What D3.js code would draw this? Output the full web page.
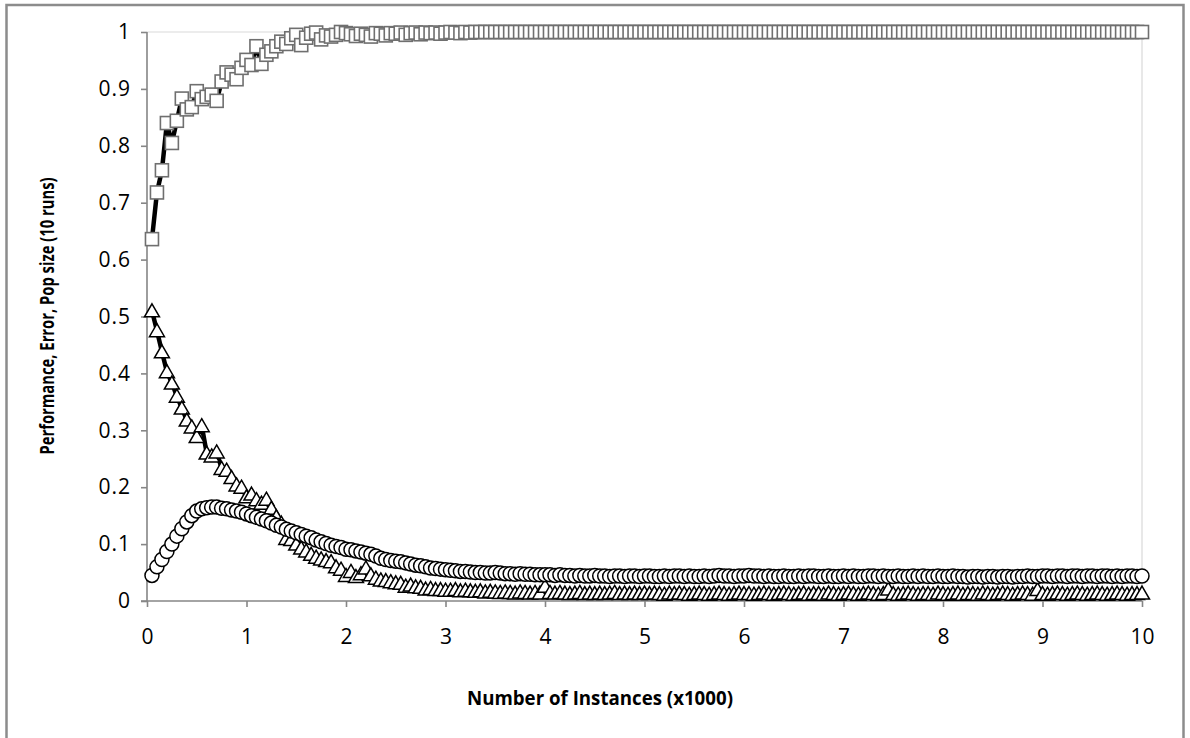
<!DOCTYPE html>
<head>
<meta charset="utf-8">
<title>Performance, Error, Pop size</title>
<script src="https://d3js.org/d3.v7.min.js"></script>
<style>
  body { margin: 0; background: #fff; }
  text { font-family: "Open Sans", "DejaVu Sans", sans-serif; fill: #000; }
</style>
</head>
<body>
<div id="container"></div>
<script>
// ---------------- DATA ----------------
// x = number of instances (x1000), sampled every 0.05
const instances = d3.range(1, 201).map(i => +(i * 0.05).toFixed(2));
const xTicks = [0, 1, 2, 3, 4, 5, 6, 7, 8, 9, 10];
const yTicks = [0, 0.1, 0.2, 0.3, 0.4, 0.5, 0.6, 0.7, 0.8, 0.9, 1];

// squares
const performance = [
  0.636,0.718,0.757,0.840,0.805,0.844,0.883,0.864,0.868,0.896,
  0.882,0.886,0.890,0.879,0.913,0.929,0.925,0.917,0.937,0.951,
  0.942,0.975,0.944,0.960,0.966,0.975,0.983,0.979,0.989,0.995,
  0.977,0.990,0.997,0.999,0.987,0.994,0.992,0.995,1.000,0.998,
  0.996,0.993,0.997,0.995,0.992,0.998,0.997,0.994,0.998,0.997,
  0.999,0.995,0.998,0.999,0.996,0.999,0.998,0.999,0.997,0.999,
  1,0.999,0.998,1,0.999,1,1,1,1,1,
  1,1,1,1,1,1,1,1,1,1,
  1,1,1,1,1,1,1,1,1,1,
  1,1,1,1,1,1,1,1,1,1,
  1,1,1,1,1,1,1,1,1,1,
  1,1,1,1,1,1,1,1,1,1,
  1,1,1,1,1,1,1,1,1,1,
  1,1,1,1,1,1,1,1,1,1,
  1,1,1,1,1,1,1,1,1,1,
  1,1,1,1,1,1,1,1,1,1,
  1,1,1,1,1,1,1,1,1,1,
  1,1,1,1,1,1,1,1,1,1,
  1,1,1,1,1,1,1,1,1,1,
  1,1,1,1,1,1,1,1,1,1
];

// triangles
const error = [
  0.510,0.475,0.438,0.403,0.383,0.360,0.339,0.318,0.306,0.289,
  0.308,0.260,0.255,0.262,0.233,0.230,0.217,0.204,0.200,0.183,
  0.188,0.178,0.172,0.179,0.163,0.148,0.137,0.110,0.108,0.100,
  0.093,0.088,0.082,0.077,0.074,0.071,0.069,0.060,0.056,0.045,
  0.052,0.043,0.048,0.058,0.046,0.040,0.037,0.036,0.034,0.032,
  0.031,0.026,0.028,0.025,0.024,0.021,0.022,0.020,0.020,0.019,
  0.019,0.020,0.018,0.019,0.018,0.017,0.018,0.016,0.017,0.016,
  0.015,0.016,0.015,0.014,0.016,0.015,0.014,0.015,0.014,0.026,
  0.015,0.014,0.015,0.014,0.013,0.014,0.015,0.013,0.014,0.013,
  0.014,0.013,0.014,0.015,0.013,0.014,0.013,0.014,0.013,0.014,
  0.013,0.014,0.013,0.012,0.014,0.013,0.014,0.013,0.012,0.013,
  0.014,0.013,0.012,0.013,0.014,0.013,0.012,0.013,0.014,0.013,
  0.013,0.012,0.013,0.014,0.013,0.012,0.013,0.014,0.013,0.012,
  0.013,0.014,0.012,0.013,0.013,0.012,0.014,0.013,0.012,0.013,
  0.014,0.013,0.012,0.013,0.014,0.013,0.012,0.013,0.021,0.013,
  0.012,0.013,0.014,0.013,0.012,0.013,0.013,0.012,0.014,0.013,
  0.012,0.013,0.014,0.012,0.013,0.013,0.012,0.014,0.013,0.012,
  0.013,0.014,0.013,0.012,0.013,0.014,0.013,0.012,0.020,0.013,
  0.012,0.013,0.014,0.013,0.012,0.013,0.014,0.013,0.012,0.013,
  0.014,0.013,0.012,0.013,0.014,0.013,0.012,0.013,0.013,0.014
];

// circles
const popSize = [
  0.045,0.060,0.073,0.087,0.100,0.114,0.127,0.139,0.150,0.158,
  0.162,0.164,0.165,0.165,0.163,0.162,0.160,0.158,0.156,0.153,
  0.150,0.147,0.144,0.141,0.137,0.133,0.130,0.126,0.123,0.120,
  0.117,0.114,0.111,0.107,0.104,0.101,0.098,0.096,0.094,0.091,
  0.090,0.088,0.086,0.084,0.082,0.079,0.075,0.073,0.071,0.070,
  0.069,0.067,0.065,0.063,0.062,0.060,0.058,0.057,0.056,0.055,
  0.054,0.053,0.052,0.052,0.051,0.050,0.050,0.049,0.049,0.050,
  0.049,0.048,0.048,0.047,0.048,0.047,0.047,0.046,0.046,0.046,
  0.046,0.045,0.046,0.045,0.045,0.044,0.045,0.044,0.044,0.045,
  0.044,0.044,0.043,0.044,0.044,0.043,0.044,0.044,0.043,0.044,
  0.044,0.043,0.043,0.044,0.043,0.044,0.044,0.043,0.044,0.043,
  0.043,0.044,0.043,0.044,0.045,0.044,0.044,0.043,0.044,0.044,
  0.045,0.044,0.044,0.043,0.044,0.043,0.043,0.044,0.043,0.043,
  0.044,0.043,0.044,0.044,0.043,0.043,0.044,0.043,0.043,0.044,
  0.043,0.044,0.043,0.043,0.044,0.044,0.043,0.044,0.043,0.043,
  0.044,0.043,0.043,0.044,0.043,0.044,0.043,0.043,0.044,0.043,
  0.043,0.044,0.043,0.043,0.042,0.043,0.043,0.042,0.043,0.043,
  0.042,0.043,0.043,0.042,0.043,0.043,0.044,0.043,0.043,0.044,
  0.044,0.043,0.044,0.044,0.043,0.044,0.044,0.043,0.044,0.044,
  0.043,0.044,0.044,0.043,0.044,0.043,0.044,0.044,0.043,0.044
];

// ---------------- SVG ----------------
const width = 1190, height = 738;
const plot = { left: 147, right: 1142, top: 32, bottom: 601 };

const svg = d3.select("#container").append("svg")
  .attr("width", width)
  .attr("height", height);

// outer chart frame
svg.append("rect")
  .attr("x", 6.5).attr("y", 5)
  .attr("width", 1177).attr("height", 800)
  .attr("fill", "#fff")
  .attr("stroke", "#8c8c8c")
  .attr("stroke-width", 2.5);

// ---------------- SCALES ----------------
const x = d3.scaleLinear().domain([0, 10]).range([plot.left, plot.right]);
const y = d3.scaleLinear().domain([0, 1]).range([plot.bottom, plot.top]);

// plot area border (top and right)
svg.append("path")
  .attr("d", `M${plot.left},${plot.top}H${plot.right}V${plot.bottom}`)
  .attr("fill", "none")
  .attr("stroke", "#d9d9d9")
  .attr("stroke-width", 1.2);

// ---------------- AXES ----------------
const yAxis = d3.axisLeft(y).tickValues(yTicks)
  .tickFormat(d => d3.format("~g")(d)).tickSize(6).tickPadding(10);
const xAxis = d3.axisBottom(x).tickValues(xTicks)
  .tickFormat(d3.format("d")).tickSize(6).tickPadding(22);

const gy = svg.append("g")
  .attr("transform", `translate(${plot.left},0)`)
  .call(yAxis);
const gx = svg.append("g")
  .attr("transform", `translate(0,${plot.bottom})`)
  .call(xAxis);

[gx, gy].forEach(g => {
  g.select(".domain").attr("stroke", "#868686").attr("stroke-width", 1.6);
  g.selectAll(".tick line").attr("stroke", "#868686").attr("stroke-width", 1.6);
  g.selectAll(".tick text")
    .style("font-family", "'Open Sans', sans-serif")
    .attr("font-size", 21)
    .attr("fill", "#000");
});
gy.selectAll(".tick text").attr("letter-spacing", 1);
gy.select(".domain").attr("d", `M-6,${plot.bottom}H0V${plot.top}`);
gx.select(".domain").attr("d", `M${plot.left},0H${plot.right}`);

// axis titles
svg.append("text")
  .attr("x", 600).attr("y", 705)
  .attr("text-anchor", "middle")
  .attr("font-size", 19).attr("font-weight", "bold")
  .attr("textLength", 266).attr("lengthAdjust", "spacingAndGlyphs")
  .text("Number of Instances (x1000)");

svg.append("text")
  .attr("transform", "translate(54,316) rotate(-90)")
  .attr("text-anchor", "middle")
  .attr("font-size", 20).attr("font-weight", "bold")
  .attr("textLength", 277).attr("lengthAdjust", "spacingAndGlyphs")
  .text("Performance, Error, Pop size (10 runs)");

// ---------------- SERIES ----------------
const line = d3.line()
  .x((d, i) => x(instances[i]))
  .y(d => y(d));

function drawLine(values) {
  svg.append("path")
    .datum(values)
    .attr("d", line)
    .attr("fill", "none")
    .attr("stroke", "#000")
    .attr("stroke-width", 4.5)
    .attr("stroke-linejoin", "round");
}

// performance: squares
drawLine(performance);
svg.append("g").selectAll("rect")
  .data(performance)
  .join("rect")
  .attr("x", (d, i) => x(instances[i]) - 6.5)
  .attr("y", d => y(d) - 6.5)
  .attr("width", 13).attr("height", 13)
  .attr("fill", "#fff")
  .attr("stroke", "#6f6f6f")
  .attr("stroke-width", 1.6);

// error: triangles
drawLine(error);
svg.append("g").selectAll("path")
  .data(error)
  .join("path")
  .attr("transform", (d, i) => `translate(${x(instances[i])},${y(d)})`)
  .attr("d", "M0,-7L7.5,6L-7.5,6Z")
  .attr("fill", "#fff")
  .attr("stroke", "#000")
  .attr("stroke-width", 1.5);

// pop size: circles
drawLine(popSize);
svg.append("g").selectAll("circle")
  .data(popSize)
  .join("circle")
  .attr("cx", (d, i) => x(instances[i]))
  .attr("cy", d => y(d))
  .attr("r", 7)
  .attr("fill", "#fff")
  .attr("stroke", "#000")
  .attr("stroke-width", 1.5);
</script>
</body>
